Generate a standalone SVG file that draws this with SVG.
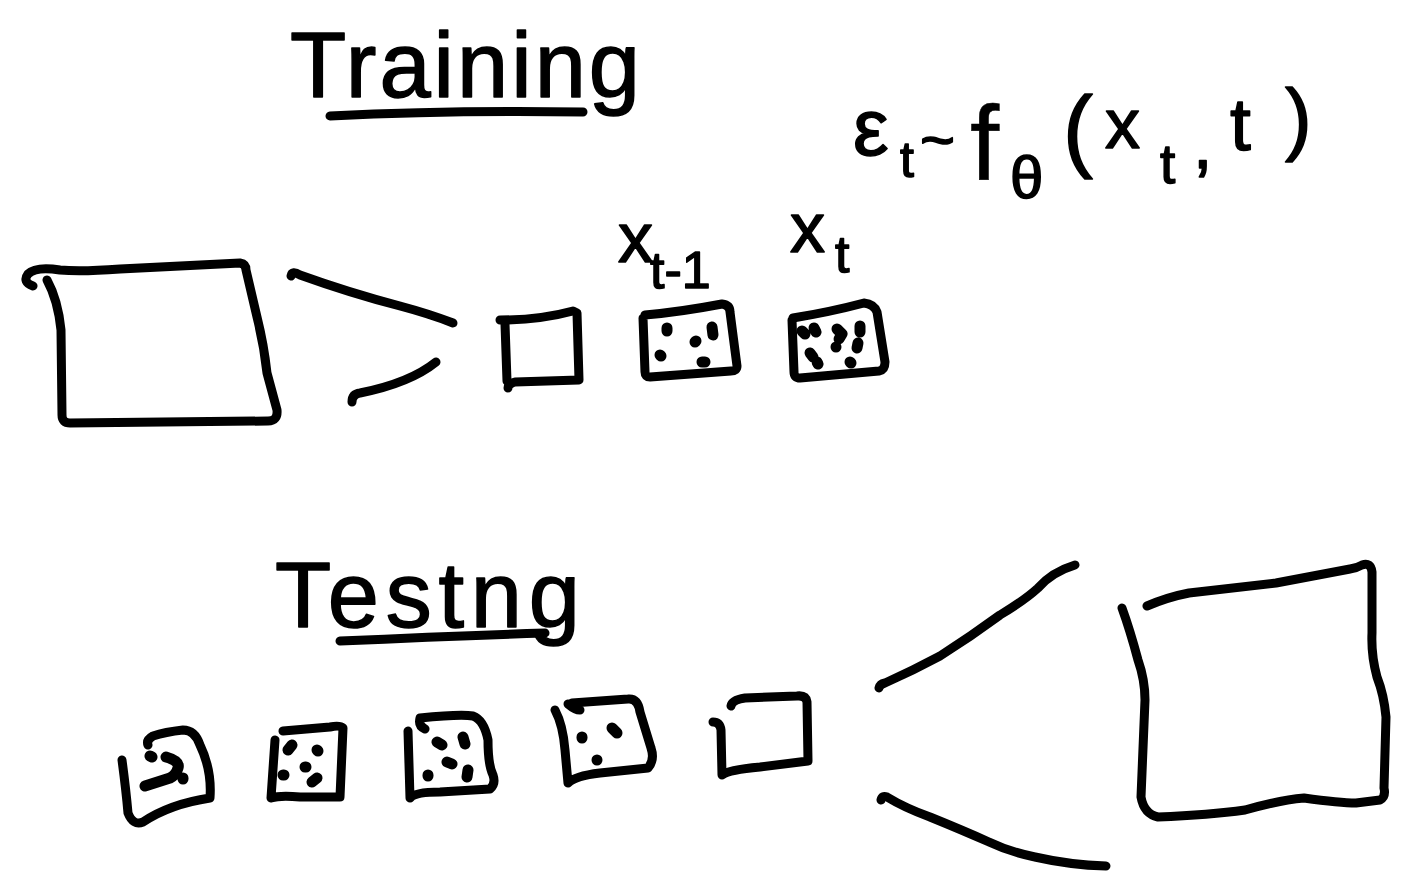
<svg xmlns="http://www.w3.org/2000/svg" width="1408" height="873" viewBox="0 0 1408 873">
  <style>
    .ink { fill: none; stroke: #000; stroke-width: 9; stroke-linecap: round; stroke-linejoin: round; }
    .dot { fill: none; stroke: #000; stroke-width: 11; stroke-linecap: round; stroke-linejoin: round; }
    .hand { font-family: "Liberation Sans", "DejaVu Sans", sans-serif; fill: #000; stroke: #000; stroke-width: 1.5; stroke-linejoin: round; }
  </style>
  <rect width="1408" height="873" fill="#fff"/>

  <!-- headings -->
  <g id="title-training">
    <text class="hand" x="290" y="97" font-size="92" textLength="350">Training</text>
    <path class="ink" d="M330 116 Q450 110 583 112"/>
  </g>
  <g id="title-testing">
    <text class="hand" x="275" y="627" font-size="92" textLength="305">Testng</text>
    <path class="ink" d="M340 641 Q450 636 545 633"/>
  </g>

  <!-- noise prediction formula -->
  <g id="formula" class="hand">
    <text x="853" y="155" font-size="80">ε</text>
    <text x="900" y="177" font-size="50">t</text>
    <text x="920" y="160" font-size="60">~</text>
    <text x="970" y="180" font-size="105" stroke-width="0.5">f</text>
    <text x="1010" y="198" font-size="60">θ</text>
    <text x="1063" y="160" font-size="90">(</text>
    <text x="1105" y="148" font-size="70">x</text>
    <text x="1160" y="183" font-size="55">t</text>
    <text x="1193" y="168" font-size="70">,</text>
    <text x="1230" y="150" font-size="75">t</text>
    <text x="1285" y="145" font-size="80">)</text>
  </g>

  <!-- training: image, clean sample, x_{t-1}, x_t -->
  <g id="train-image">
    <path class="ink" d="M33 286 Q22 282 28 274 Q36 266 60 270 Q80 272 120 269 L240 263 Q246 264 246 270 L257 317 Q264 345 267 373 L277 410 Q278 421 268 421 L70 423 Q62 423 62 415 L61 330 Q58 300 47 280"/>
  </g>
  <g id="train-x0">
    <path class="ink" d="M500 320 Q540 320 573 311 L577 313 L579 380 L515 382 Q508 384 508 388"/>
    <path class="ink" d="M505 324 L507 381"/>
  </g>
  <g id="train-xt1">
    <path class="ink" d="M645 315 Q680 312 722 304 Q730 305 730 312 L737 366 Q737 371 731 371 L650 377 Q645 377 645 372 L643 318"/>
    <path class="dot" d="M667 328 L667 331 M712 327 L713 335 M695 342 L696 341 M660 355 L661 356 M702 362 L705 362"/>
    <text class="hand" x="618" y="262" font-size="70">x</text>
    <text class="hand" x="650" y="288" font-size="52">t-1</text>
  </g>
  <g id="train-xt">
    <path class="ink" d="M793 318 Q830 312 864 303 Q874 304 877 312 L885 362 Q885 370 879 371 L800 378 Q794 378 794 372 L792 320"/>
    <path class="dot" d="M802 331 L805 334 M814 328 L816 332 M810 353 L813 357 M817 362 L818 364 M837 329 L842 334 L839 339 M836 347 L836 347 M860 326 L860 332 M858 343 L857 348 M850 362 L851 363"/>
    <text class="hand" x="790" y="252" font-size="70">x</text>
    <text class="hand" x="835" y="272" font-size="52">t</text>
  </g>

  <!-- testing: denoising sequence and output image -->
  <g id="test-xT">
    <path class="ink" d="M122 760 Q126 790 128 813 Q133 826 143 822 Q170 804 210 798 Q212 770 200 745 Q195 730 183 730 Q165 732 153 736 Q146 740 148 745"/>
    <path class="dot" d="M150 756 L152 757 M166 757 Q180 761 178 768 Q176 775 170 778 L145 786 M183 779 L183 778"/>
  </g>
  <g id="test-step1">
    <path class="ink" d="M275 740 L271 798 Q280 795 300 797 L340 797 L343 728 Q340 725 330 727 L283 731"/>
    <path class="dot" d="M292 745 L288 750 M317 750 L318 751 M305 767 L306 767 M283 775 L284 775 M317 778 L312 782"/>
  </g>
  <g id="test-step2">
    <path class="ink" d="M408 731 L410 798 Q415 792 440 792 L490 789 Q496 784 493 775 Q488 765 488 740 Q484 720 473 716 Q460 714 420 718 Q418 726 425 729"/>
    <path class="dot" d="M437 742 L442 745 M463 737 L465 744 M447 762 L452 764 M428 775 L428 776 M468 770 L467 777"/>
  </g>
  <g id="test-step3">
    <path class="ink" d="M555 710 Q563 725 565 750 L568 783 Q575 776 600 773 L648 768 Q655 760 651 748 L640 712 Q638 698 628 699 L572 703"/>
    <path class="ink" d="M568 704 Q575 710 580 710"/>
    <path class="dot" d="M582 737 L582 738 M612 728 L617 733 M597 760 L597 760"/>
  </g>
  <g id="test-x0">
    <path class="ink" d="M713 722 Q720 722 721 730 L722 775 Q728 770 760 767 L808 761 L807 702 Q806 695 797 696 L745 698 Q732 700 731 706"/>
  </g>
  <g id="test-image">
    <path class="ink" d="M1122 608 Q1130 630 1138 660 Q1145 680 1145 700 L1141 797 Q1144 814 1158 817 Q1210 815 1245 810 Q1280 800 1304 798 Q1340 803 1356 803 L1380 800 Q1386 797 1384 788 L1386 717 Q1384 695 1377 677 Q1371 655 1372 633 L1372 572 Q1371 562 1362 565 Q1357 568 1350 569 L1276 583 L1189 593 Q1168 597 1147 606"/>
  </g>

  <!-- zoom wedges linking large images to samples -->
  <g id="connectors">
    <path class="ink" d="M291 276 Q292 270 300 275 Q350 293 400 306 Q430 314 453 323"/>
    <path class="ink" d="M436 362 Q410 383 360 393 Q352 394 352 402"/>
    <path class="ink" d="M879 688 Q880 684 885 683 Q912 671 940 656 Q970 637 1000 615 Q1025 600 1038 588 Q1052 572 1075 565"/>
    <path class="ink" d="M881 800 Q882 795 887 797 Q905 808 930 817 Q962 830 989 842 Q1010 852 1035 857 Q1070 865 1106 866"/>
  </g>
</svg>
